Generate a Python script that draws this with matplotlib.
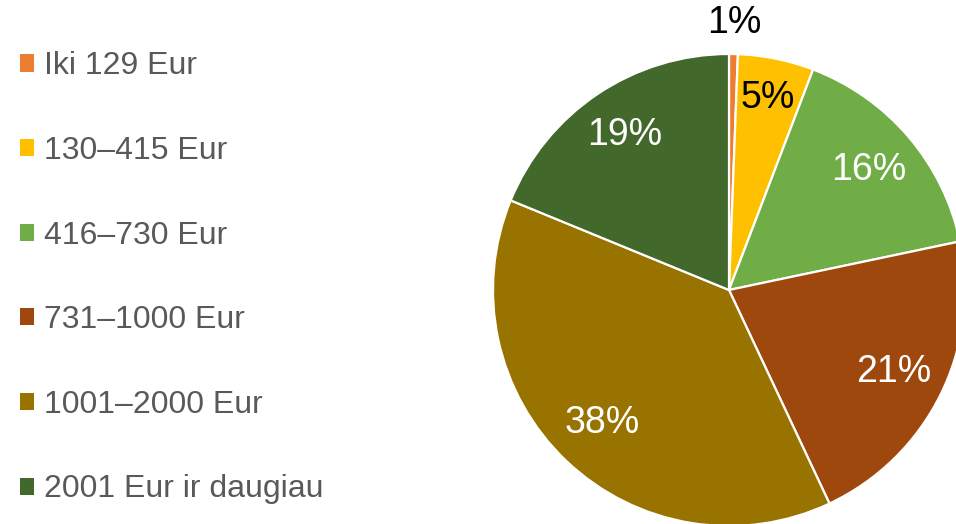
import numpy as np
import matplotlib
matplotlib.use("Agg")
import matplotlib.pyplot as plt

plt.rcParams["font.family"] = ["Liberation Sans", "DejaVu Sans"]

# income groups and their shares (%)
labels = ["Iki 129 Eur", "130\u2013415 Eur", "416\u2013730 Eur",
          "731\u20131000 Eur", "1001\u20132000 Eur", "2001 Eur ir daugiau"]
shares = [0.6, 5.2, 15.9, 21.3, 38.2, 18.8]
colors = ["#ED7D31", "#FFC000", "#70AD47", "#9E480E", "#997300", "#43682B"]
label_colors = ["black", "black", "white", "white", "white", "white"]
label_dist = [1.13, 0.83, 0.78, 0.78, 0.78, 0.79]

W, H = 956, 524
fig = plt.figure(figsize=(W / 100, H / 100), dpi=100)
ax = fig.add_axes([0, 0, 1, 1])
ax.set_aspect("equal")

cx, cy, R = 729, H - 290, 236
wedges, _ = ax.pie(shares, colors=colors, startangle=90, counterclock=False,
                   center=(cx, cy), radius=R, frame=True,
                   wedgeprops=dict(edgecolor="white", linewidth=1.6))
ax.set_xlim(0, W)
ax.set_ylim(0, H)
ax.axis("off")

# percentage labels at the middle angle of each wedge
for w, v, c, d in zip(wedges, shares, label_colors, label_dist):
    ang = np.deg2rad((w.theta1 + w.theta2) / 2)
    ax.text(cx + d * R * np.cos(ang), cy + d * R * np.sin(ang), f"{v:.0f}%",
            ha="center", va="center", color=c, fontsize=27)

leg = ax.legend(wedges, labels, loc="upper left", bbox_to_anchor=(0.021, 0.902),
                frameon=False, fontsize=23, handlelength=0.45, handleheight=0.45,
                handletextpad=0.3, labelspacing=1.71, borderpad=0, borderaxespad=0)
for t in leg.get_texts():
    t.set_color("#595959")
for h in leg.legend_handles:
    h.set_edgecolor("none")

fig.savefig("out.png", dpi=100)
